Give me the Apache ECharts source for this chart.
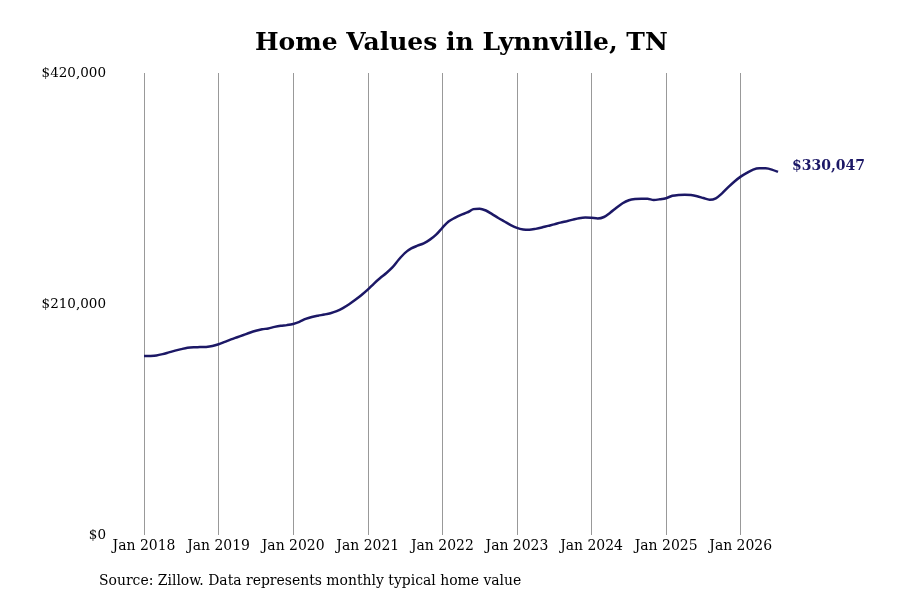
<!DOCTYPE html>
<html>
<head>
<meta charset="utf-8">
<script src="https://cdn.jsdelivr.net/npm/echarts@6/dist/echarts.min.js"></script>
<style>
    html, body { margin: 0; padding: 0; background: #fff; }
    #chart { width: 900px; height: 600px; }
</style>
</head>
<body>
<div id="chart"></div>
<script>
// 月度数据：Jan 2018 起，每年 12 个值
const years = [2018, 2019, 2020, 2021, 2022, 2023, 2024, 2025, 2026];
const monthNames = ['Jan', 'Feb', 'Mar', 'Apr', 'May', 'Jun', 'Jul', 'Aug', 'Sep', 'Oct', 'Nov', 'Dec'];

const values2018 = [162700, 162800, 163200, 164400, 166000, 167600, 169000, 170200, 170700, 170800, 171000, 171800];
const values2019 = [173400, 175600, 177800, 179800, 181800, 183900, 185700, 187000, 187800, 189200, 190200, 190800];
const values2020 = [191800, 193800, 196400, 198200, 199400, 200400, 201600, 203500, 206300, 209800, 213800, 218200];
const values2021 = [223000, 228600, 233600, 238200, 243500, 250500, 256500, 260500, 263000, 265200, 268500, 273000];
const values2022 = [279300, 285000, 288300, 291100, 293200, 296200, 296700, 295000, 291700, 288200, 285000, 281800];
const values2023 = [279200, 277800, 277500, 278300, 279500, 281000, 282400, 284000, 285300, 286700, 288000, 288600];
const values2024 = [288300, 287800, 289100, 293000, 297500, 301600, 304300, 305400, 305600, 305600, 304600, 305200];
const values2025 = [306200, 308400, 309200, 309400, 309000, 307900, 306300, 304800, 306100, 310600, 316200, 321400];
const values2026 = [325800, 329200, 332200, 333400, 333300, 332200, 330047];

const yTicks = [0, 210000, 420000];

const homeValues = [].concat(values2018, values2019, values2020, values2021, values2022,
    values2023, values2024, values2025, values2026);

const months = homeValues.map((v, i) =>
    monthNames[i % 12] + ' ' + years[Math.floor(i / 12)]);

const navy = '#1c1866';
const serif = "'DejaVu Serif', serif";
const serifCond = "'DejaVu Serif Condensed', 'DejaVu Serif', serif";

function fmtMoney(v) {
    return '$' + Math.round(v).toLocaleString('en-US');
}

const isJan = (idx) => idx % 12 === 0;

const chart = echarts.init(document.getElementById('chart'), null, { renderer: 'canvas' });

chart.setOption({
    backgroundColor: '#fff',
    animation: false,
    title: {
        text: 'Home Values in Lynnville, TN',
        left: 250,
        top: 26,
        textStyle: { fontFamily: serif, fontSize: 25, fontWeight: 'bold', color: '#000' }
    },
    graphic: [{
        type: 'text',
        left: 99,
        top: 573,
        style: {
            text: 'Source: Zillow. Data represents monthly typical home value',
            font: "15.5px " + serifCond,
            fill: '#000'
        }
    }],
    grid: { left: 144, right: 122, top: 73, bottom: 65 },
    xAxis: {
        type: 'category',
        data: months,
        boundaryGap: false,
        axisLine: { show: false },
        axisTick: { show: false },
        axisLabel: {
            interval: (idx) => isJan(idx),
            margin: 3,
            color: '#000',
            fontSize: 15.5,
            fontFamily: serifCond
        },
        splitLine: {
            show: true,
            interval: (idx) => isJan(idx),
            lineStyle: { color: '#999', width: 1 }
        }
    },
    yAxis: {
        type: 'value',
        min: yTicks[0],
        max: yTicks[yTicks.length - 1],
        interval: yTicks[1] - yTicks[0],
        axisLine: { show: false },
        axisTick: { show: false },
        splitLine: { show: false },
        axisLabel: {
            margin: 38,
            color: '#000',
            fontSize: 13.5,
            fontFamily: serif,
            formatter: fmtMoney
        }
    },
    series: [{
        type: 'line',
        data: homeValues,
        smooth: 0.3,
        showSymbol: false,
        lineStyle: { color: navy, width: 2.5 },
        itemStyle: { color: navy },
        endLabel: {
            show: true,
            distance: 14,
            offset: [0, -6],
            formatter: (p) => fmtMoney(p.value),
            color: navy,
            fontSize: 14,
            fontWeight: 'bold',
            fontFamily: serif
        }
    }]
});
</script>
</body>
</html>
